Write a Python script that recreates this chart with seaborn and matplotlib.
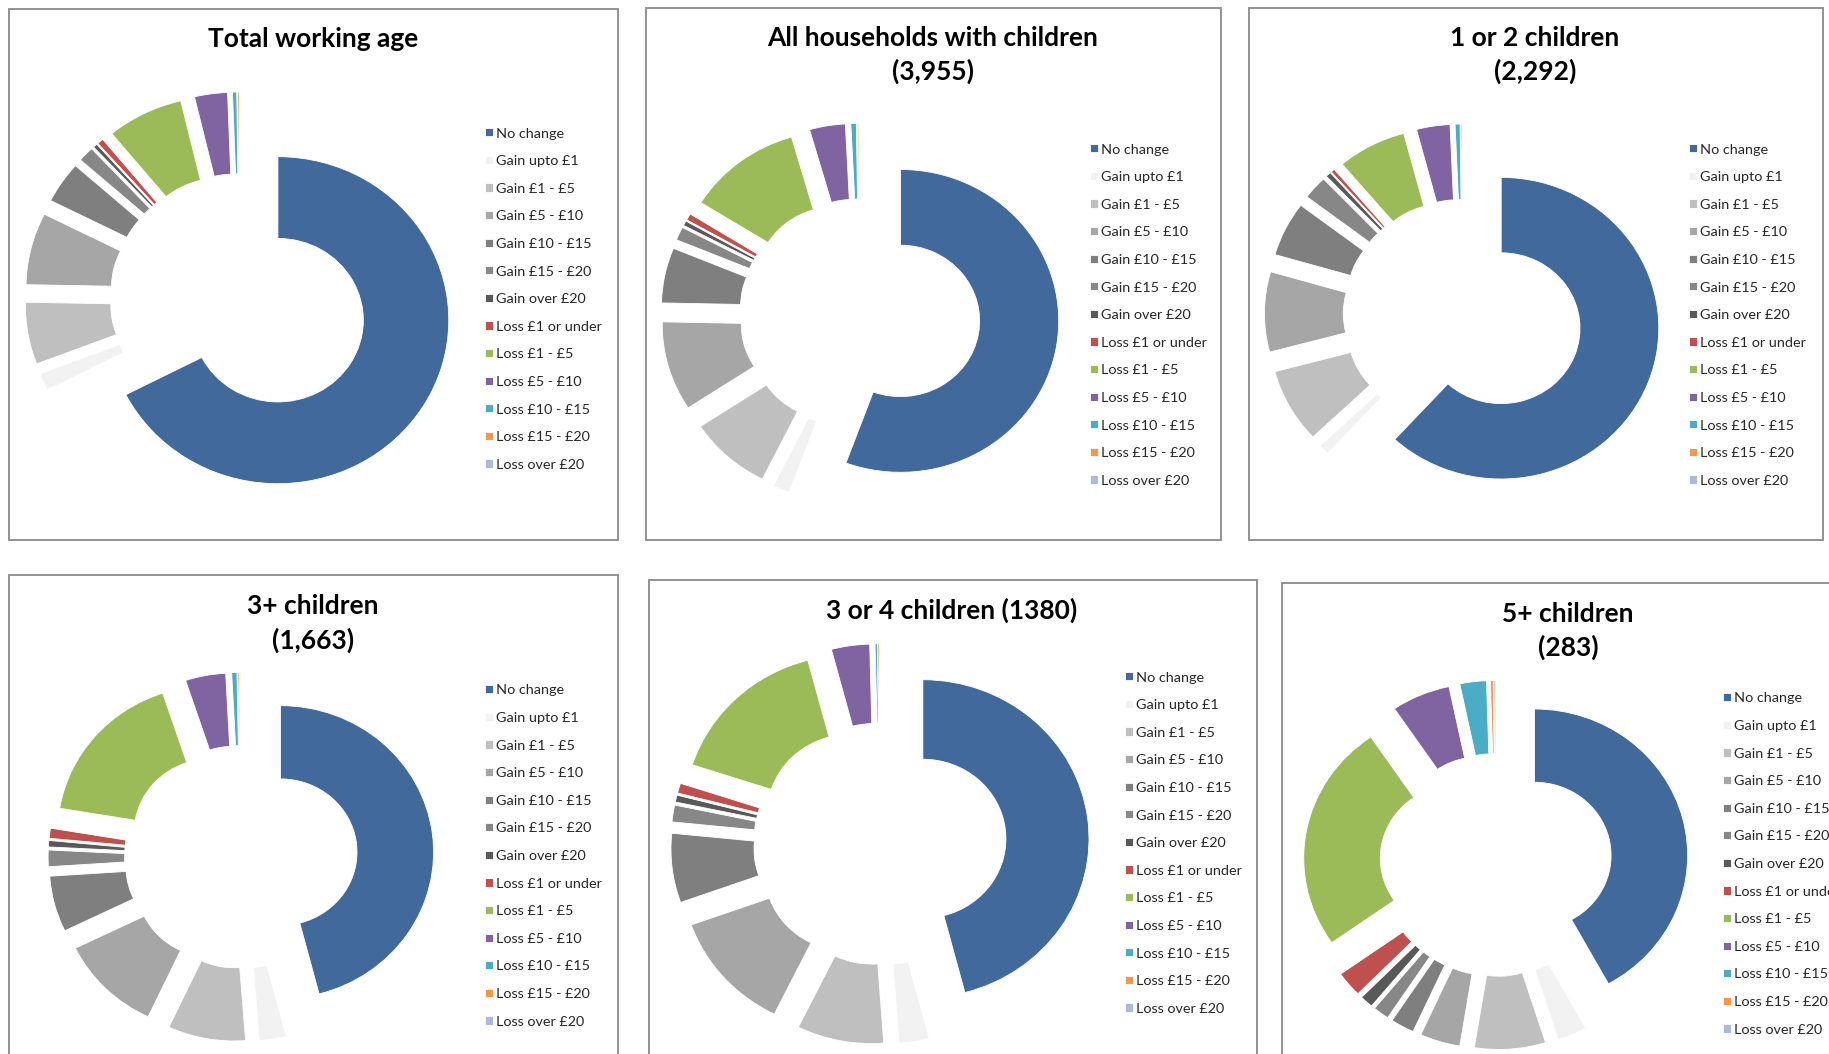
import matplotlib
matplotlib.use("Agg")
import matplotlib.pyplot as plt
from matplotlib.patches import Rectangle
import seaborn as sns

sns.set_theme(style="white")
plt.rcParams['font.family'] = ['Lato', 'DejaVu Sans']

# income change bands, clockwise from 12 o'clock
bands = ['No change', 'Gain upto £1', 'Gain £1 - £5', 'Gain £5 - £10', 'Gain £10 - £15',
         'Gain £15 - £20', 'Gain over £20', 'Loss £1 or under', 'Loss £1 - £5',
         'Loss £5 - £10', 'Loss £10 - £15', 'Loss £15 - £20', 'Loss over £20']

# share of households in each band (%)
total_working_age = [67.2, 1.7, 6.1, 7.1, 4.1, 1.5, 0.4, 0.6, 7.2, 3.1, 0.4, 0.15, 0.05]
all_with_children = [54.7, 1.7, 8.3, 9.4, 5.8, 1.4, 0.5, 0.7, 11.5, 3.6, 0.55, 0.15, 0.08]
one_or_two = [61.2, 1.1, 7.9, 8.5, 5.8, 2.5, 0.55, 0.4, 7.0, 3.4, 0.5, 0.13, 0.05]
three_plus = [45.4, 2.8, 8.1, 10.7, 6.1, 1.8, 0.7, 1.1, 17.1, 4.2, 0.55, 0.17, 0.1]
three_or_four = [45.7, 2.9, 8.4, 12.2, 7.0, 1.7, 0.7, 1.0, 15.8, 3.7, 0.22, 0.15, 0.03]
five_plus = [42.0, 3.1, 7.5, 4.25, 2.5, 1.7, 1.4, 2.8, 25.3, 6.2, 2.8, 0.3, 0.2]

titles = [['Total working age'],
          ['All households with children', '(3,955)'],
          ['1 or 2 children', '(2,292)'],
          ['3+ children', '(1,663)'],
          ['3 or 4 children (1380)'],
          ['5+ children', '(283)']]

colours = ['#41699c', '#f2f2f2', '#bfbfbf', '#a6a6a6', '#7f7f7f', '#878787', '#595959',
           '#c0504d', '#9bbb59', '#8064a2', '#4bacc6', '#f79646', '#aabada']

# layout in pixels (x right, y down)
W, H = 1829, 1054
boxes = [(9, 9, 618, 540), (646, 8, 1221, 540), (1249, 8, 1823, 540),
         (9, 575, 618, 1100), (649, 580, 1257, 1100), (1282, 583, 1900, 1100)]
centres = [(240, 298, 163.5), (860, 314, 151.4), (1463, 314, 150.8),
           (241, 857, 146.5), (880, 844, 159), (1496, 865, 146.5)]
title_x = [313, 933, 1535, 313, 952, 1568]
title_y = [[39], [38, 71], [38, 71], [606, 640], [610], [614, 647]]
legend_xy = [(485, 127.5), (1090, 143.5), (1689, 143.5), (485, 684.5), (1125, 671.5), (1723, 692.5)]

STRETCH = 1.045   # the original picture is a little wider than tall
L = 1.32

fig = plt.figure(figsize=(W / 100, H / 100), dpi=100)
fig.patch.set_facecolor('white')

data = [total_working_age, all_with_children, one_or_two, three_plus, three_or_four, five_plus]

for i, values in enumerate(data):
    x0, y0, x1, y1 = boxes[i]
    fig.add_artist(Rectangle((x0 / W, 1 - y1 / H), (x1 - x0) / W, (y1 - y0) / H,
                             transform=fig.transFigure, fill=False,
                             edgecolor='#8a8a8a', linewidth=1.3))
    for line, ty in zip(titles[i], title_y[i]):
        fig.text(title_x[i] / W, 1 - ty / H, line, ha='center', va='center',
                 fontsize=19, fontweight='bold', color='black')

    cx, cy, r = centres[i]
    w = 2 * L * r * STRETCH
    h = 2 * L * r
    ax = fig.add_axes([(cx - w / 2) / W, 1 - (cy + h / 2) / H, w / W, h / H])
    wedges, _ = ax.pie(values, colors=colours, startangle=90, counterclock=False,
                       explode=[0.26] * len(values), radius=1,
                       wedgeprops=dict(width=0.5, edgecolor='white', linewidth=0.6))
    ax.set_aspect('auto')
    ax.set_xlim(-L, L)
    ax.set_ylim(-L, L)
    ax.axis('off')

    lx, ly = legend_xy[i]
    ax.legend(wedges, bands, loc='upper left', bbox_to_anchor=(lx / W, 1 - ly / H),
              bbox_transform=fig.transFigure, frameon=False, fontsize=10.4,
              handlelength=0.55, handleheight=0.5, handletextpad=0.2,
              labelspacing=1.08, borderpad=0, borderaxespad=0)

fig.savefig('out.png', dpi=100, facecolor='white')
